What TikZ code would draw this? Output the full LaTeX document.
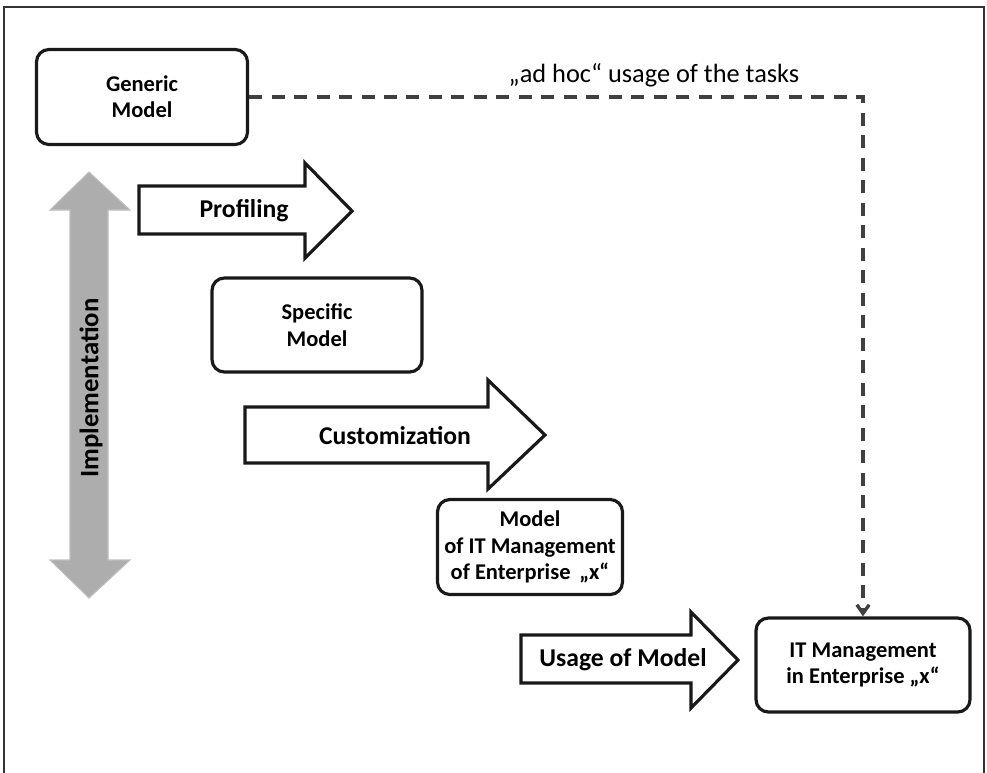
\documentclass[tikz,border=0pt]{standalone}
\usepackage{fontspec}
\setmainfont{Carlito}
\usetikzlibrary{arrows.meta}

\tikzset{
  box/.style={draw=black!90, line width=1.8pt, rounded corners=7pt, align=center,
    font=\fontsize{12.8}{15}\selectfont\bfseries},
  bigarrow/.style={draw=black!90, line width=1.8pt, fill=white, line join=miter},
  arrowtext/.style={font=\fontsize{14.6}{17}\selectfont\bfseries},
  dashline/.style={draw=black!75, line width=1.9pt, dash pattern=on 7.4pt off 5.4pt},
}

\begin{document}
\begin{tikzpicture}[x=0.02cm, y=-0.02cm]
  \useasboundingbox (0,0) rectangle (987,772);
  % frame, open at the bottom
  \draw[line width=1pt, black!80] (4,790) -- (4,7) -- (984,7) -- (984,790);

  % models
  \node[box, minimum width=4.22cm, minimum height=1.9cm] (generic) at (142,97) {Generic\\Model};
  \node[box, minimum width=4.2cm, minimum height=1.88cm] (specific) at (317,325) {Specific\\Model};
  \node[box, minimum width=3.7cm, minimum height=1.9cm] (model) at (530,547) {Model\\of IT Management\\of Enterprise \,„x“};
  \node[box, minimum width=4.28cm, minimum height=1.88cm] (itm) at (863,665) {IT Management\\in Enterprise „x“};

  % implementation arrow
  \draw[fill=black!32, draw=black!25, line width=0.6pt] (89,172) -- (130,210) -- (108,210) -- (108,560)
    -- (130,560) -- (89,598) -- (50,560) -- (70,560) -- (70,210) -- (50,210) -- cycle;
  \node[arrowtext, font=\fontsize{15.2}{17}\selectfont\bfseries, rotate=90] (implementation) at (91,388) {Implementation};

  % steps
  \draw[bigarrow] (139,186) -- (305,186) -- (305,163) -- (352,211) -- (305,258) -- (305,234) -- (139,234) -- cycle;
  \node[arrowtext] (profiling) at (244,211) {Profiling};
  \draw[bigarrow] (245,407) -- (488,407) -- (488,380) -- (545,435) -- (488,489) -- (488,463) -- (245,463) -- cycle;
  \node[arrowtext] (customization) at (395,436) {Customization};
  \draw[bigarrow] (521,635) -- (691,635) -- (691,612) -- (738,660) -- (691,708) -- (691,683) -- (521,683) -- cycle;
  \node[arrowtext] (usage) at (623,660) {Usage of Model};

  % ad hoc path
  \node[font=\fontsize{15}{17}\selectfont] (adhoc) at (654,75) {„ad hoc“ usage of the tasks};
  \draw[dashline, -{Straight Barb[length=5pt,width=7pt]}] (generic.east) -| (itm.north);
\end{tikzpicture}
\end{document}
